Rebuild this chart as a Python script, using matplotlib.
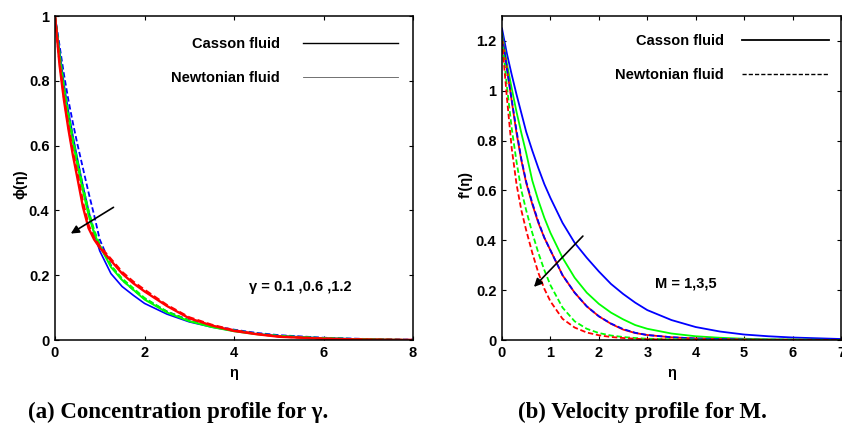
import matplotlib
matplotlib.use('Agg')
import matplotlib.pyplot as plt
from matplotlib.lines import Line2D

plt.rcParams['font.family'] = ['Liberation Sans', 'DejaVu Sans']
plt.rcParams['font.weight'] = 'bold'

# (a) concentration profile, gamma = 0.1, 0.6, 1.2
eta_a = [0, 0.1, 0.2, 0.3, 0.4, 0.5, 0.625, 0.75, 0.875, 1.0, 1.25, 1.5, 1.75, 2.0,
         2.5, 3.0, 3.5, 4.0, 4.5, 5.0, 6.0, 7.0, 8.0]
phi_casson_blue = [1.0, 0.895, 0.79, 0.705, 0.63, 0.56, 0.475, 0.40, 0.33, 0.275, 0.205, 0.165, 0.138, 0.113,
                   0.08, 0.056, 0.04, 0.028, 0.019, 0.013, 0.006, 0.002, 0.0]
phi_casson_green = [1.0, 0.88, 0.77, 0.685, 0.61, 0.54, 0.46, 0.385, 0.33, 0.29, 0.225, 0.185, 0.155, 0.125,
                    0.085, 0.058, 0.04, 0.027, 0.018, 0.012, 0.005, 0.002, 0.0]
phi_casson_red = [1.0, 0.85, 0.74, 0.65, 0.57, 0.50, 0.41, 0.345, 0.31, 0.285, 0.245, 0.205, 0.175, 0.15,
                  0.105, 0.067, 0.045, 0.028, 0.018, 0.01, 0.004, 0.001, 0.0]
phi_newt_blue = [1.0, 0.91, 0.82, 0.74, 0.67, 0.605, 0.53, 0.455, 0.385, 0.31, 0.23, 0.185, 0.155, 0.128,
                 0.088, 0.061, 0.044, 0.032, 0.022, 0.015, 0.007, 0.003, 0.001]
phi_newt_green = [1.0, 0.89, 0.785, 0.70, 0.625, 0.555, 0.475, 0.40, 0.34, 0.295, 0.23, 0.19, 0.16, 0.13,
                  0.088, 0.06, 0.042, 0.03, 0.02, 0.013, 0.006, 0.002, 0.0]
phi_newt_red = [1.0, 0.86, 0.75, 0.66, 0.58, 0.515, 0.425, 0.355, 0.315, 0.29, 0.25, 0.21, 0.18, 0.155,
                0.108, 0.07, 0.047, 0.03, 0.019, 0.011, 0.004, 0.001, 0.0]

# (b) velocity profile, M = 1, 3, 5
eta_b = [0, 0.1, 0.2, 0.3, 0.4, 0.5, 0.625, 0.75, 0.875, 1.0, 1.25, 1.5, 1.75, 2.0,
         2.25, 2.5, 2.75, 3.0, 3.5, 4.0, 4.5, 5.0, 5.5, 6.0, 7.0]
fp_casson_blue = [1.25, 1.15, 1.065, 0.985, 0.91, 0.835, 0.76, 0.69, 0.625, 0.57, 0.47, 0.39, 0.33, 0.275,
                  0.225, 0.185, 0.15, 0.12, 0.08, 0.052, 0.034, 0.022, 0.015, 0.01, 0.004]
fp_casson_green = [1.23, 1.11, 1.01, 0.915, 0.83, 0.75, 0.64, 0.56, 0.49, 0.43, 0.33, 0.25, 0.19, 0.145,
                   0.11, 0.083, 0.06, 0.045, 0.026, 0.015, 0.009, 0.005, 0.003, 0.002, 0.0]
fp_casson_red = [1.22, 1.09, 0.96, 0.83, 0.72, 0.63, 0.545, 0.47, 0.41, 0.36, 0.26, 0.19, 0.135, 0.095,
                 0.065, 0.042, 0.028, 0.02, 0.011, 0.006, 0.004, 0.002, 0.001, 0.001, 0.0]
fp_newt_blue = [1.22, 1.09, 0.965, 0.84, 0.725, 0.635, 0.55, 0.475, 0.41, 0.36, 0.26, 0.19, 0.135, 0.095,
                0.066, 0.044, 0.029, 0.02, 0.011, 0.006, 0.004, 0.002, 0.001, 0.001, 0.0]
fp_newt_green = [1.21, 1.02, 0.85, 0.715, 0.60, 0.52, 0.43, 0.35, 0.28, 0.22, 0.13, 0.075, 0.045, 0.028,
                 0.018, 0.012, 0.008, 0.005, 0.003, 0.002, 0.001, 0.001, 0.0, 0.0, 0.0]
fp_newt_red = [1.20, 0.975, 0.77, 0.625, 0.52, 0.44, 0.35, 0.27, 0.205, 0.155, 0.085, 0.05, 0.03, 0.019,
               0.012, 0.008, 0.005, 0.003, 0.002, 0.001, 0.0, 0.0, 0.0, 0.0, 0.0]

blue = (0, 0, 1)
green = (0, 1, 0)
red = (1, 0, 0)
fs = 10.5
dash = (0, (3, 1.5))

fig = plt.figure(figsize=(8.42, 4.24), dpi=100)
ax1 = fig.add_axes([55/842, 84/424, 358/842, 324/424])
ax2 = fig.add_axes([502/842, 84/424, 339/842, 324/424])

ax1.plot(eta_a, phi_newt_blue, color=blue, lw=1.3, ls=dash)
ax1.plot(eta_a, phi_casson_blue, color=blue, lw=1.2)
ax1.plot(eta_a, phi_newt_green, color=green, lw=1.3, ls=dash)
ax1.plot(eta_a, phi_casson_green, color=green, lw=1.4)
ax1.plot(eta_a, phi_newt_red, color=red, lw=1.6, ls=dash)
ax1.plot(eta_a, phi_casson_red, color=red, lw=1.7)

ax2.plot(eta_b, fp_casson_blue, color=blue, lw=1.3)
ax2.plot(eta_b, fp_casson_green, color=green, lw=1.3)
ax2.plot(eta_b, fp_casson_red, color=red, lw=1.3)
ax2.plot(eta_b, fp_newt_blue, color=blue, lw=1.3, ls=dash)
ax2.plot(eta_b, fp_newt_green, color=green, lw=1.3, ls=dash)
ax2.plot(eta_b, fp_newt_red, color=red, lw=1.3, ls=dash)

ax1.set_xlim(0, 8)
ax1.set_ylim(0, 1)
ax1.set_xticks([0, 2, 4, 6, 8])
ax1.set_yticks([0, 0.2, 0.4, 0.6, 0.8, 1])
ax1.set_yticklabels(['0', '0.2', '0.4', '0.6', '0.8', '1'])

ax2.set_xlim(0, 7)
ax2.set_ylim(0, 1.3)
ax2.set_xticks([0, 1, 2, 3, 4, 5, 6, 7])
ax2.set_yticks([0, 0.2, 0.4, 0.6, 0.8, 1.0, 1.2])
ax2.set_yticklabels(['0', '0.2', '0.4', '0.6', '0.8', '1', '1.2'])

for ax in (ax1, ax2):
    ax.tick_params(direction='in', top=True, right=True, length=3, width=0.8,
                   labelsize=fs, pad=4)
    for lab in ax.get_xticklabels() + ax.get_yticklabels():
        lab.set_fontweight('bold')
    for sp in ax.spines.values():
        sp.set_linewidth(1.1)
    ax.set_xlabel('η', fontsize=fs, fontweight='bold')
    ax.xaxis.set_label_coords(0.5, -0.08)

ax1.set_ylabel('ϕ(η)', fontsize=fs, fontweight='bold')
ax1.yaxis.set_label_coords(-0.078, 0.48)
ax2.set_ylabel("f'(η)", fontsize=fs, fontweight='bold')
ax2.yaxis.set_label_coords(-0.086, 0.48)

# legends: label on the left, line on the right
h1 = [Line2D([], [], color='k', lw=1.0), Line2D([], [], color='0.35', lw=0.6)]
ax1.legend(h1, ['Casson fluid', 'Newtonian fluid'], loc='upper right',
           bbox_to_anchor=(0.958, 0.935), markerfirst=False, frameon=False,
           handlelength=6.5, handletextpad=1.6, labelspacing=1.35,
           borderpad=0, borderaxespad=0, prop={'size': fs, 'weight': 'bold'})
h2 = [Line2D([], [], color='k', lw=1.3), Line2D([], [], color='k', lw=1.0, ls=dash)]
ax2.legend(h2, ['Casson fluid', 'Newtonian fluid'], loc='upper right',
           bbox_to_anchor=(0.965, 0.945), markerfirst=False, frameon=False,
           handlelength=6.0, handletextpad=1.2, labelspacing=1.4,
           borderpad=0, borderaxespad=0, prop={'size': fs, 'weight': 'bold'})

ax1.annotate('', xy=(0.30, 0.324), xytext=(1.36, 0.414),
             arrowprops=dict(arrowstyle='-|>', color='k', lw=1.2, mutation_scale=12))
ax1.text(4.34, 0.163, 'γ = 0.1 ,0.6 ,1.2', fontsize=fs, fontweight='bold',
         ha='left', va='center')

ax2.annotate('', xy=(0.62, 0.205), xytext=(1.71, 0.425),
             arrowprops=dict(arrowstyle='-|>', color='k', lw=1.2, mutation_scale=12))
ax2.text(3.15, 0.225, 'M = 1,3,5', fontsize=fs, fontweight='bold',
         ha='left', va='center')

fig.text(178/842, 1 - 412/424, '(a) Concentration profile for γ.', fontsize=16.5,
         fontweight='bold', family=['Liberation Serif', 'DejaVu Serif'],
         ha='center', va='center')
fig.text(642/842, 1 - 412/424, '(b) Velocity profile for M.', fontsize=16.5,
         fontweight='bold', family=['Liberation Serif', 'DejaVu Serif'],
         ha='center', va='center')

fig.savefig('out.png', dpi=100)
